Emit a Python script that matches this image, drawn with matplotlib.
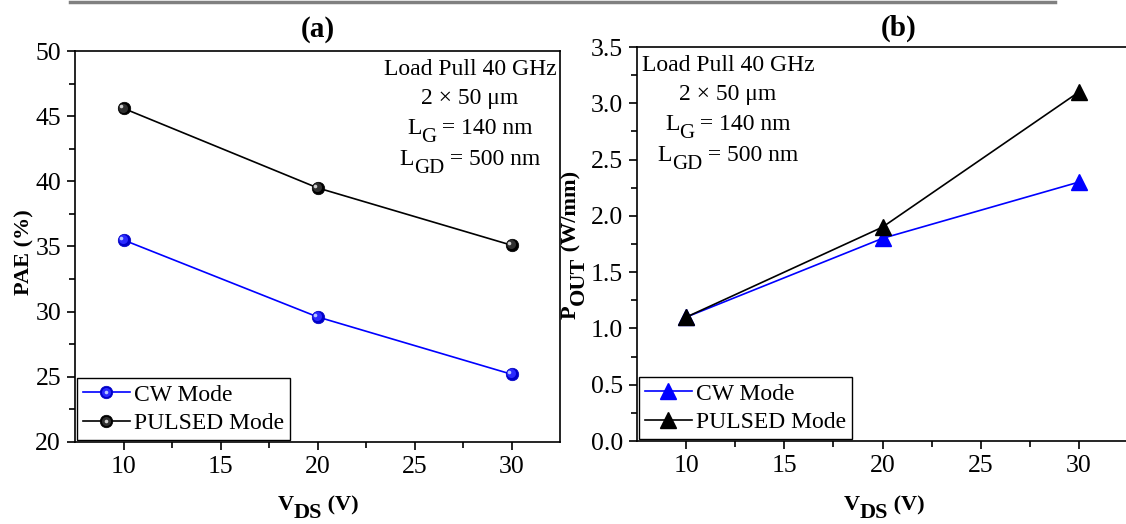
import matplotlib
matplotlib.use("Agg")
import matplotlib.pyplot as plt
from matplotlib.transforms import ScaledTranslation
from matplotlib.lines import Line2D

# Drain bias points and measured load-pull results at 40 GHz
vds = [10, 20, 30]
pae_cw = [35.5, 29.6, 25.2]
pae_pulsed = [45.6, 39.5, 35.1]
pout_cw = [1.1, 1.8, 2.3]
pout_pulsed = [1.1, 1.9, 3.1]

series_labels = ["CW Mode", "PULSED Mode"]
x_ticks = [10, 15, 20, 25, 30]
pae_ticks = [20, 25, 30, 35, 40, 45, 50]
pout_ticks = [0.0, 0.5, 1.0, 1.5, 2.0, 2.5, 3.0, 3.5]
pout_tick_labels = ["0.0", "0.5", "1.0", "1.5", "2.0", "2.5", "3.0", "3.5"]

plt.rcParams.update({
    "font.family": "Liberation Serif",
    "font.size": 17,
    "axes.linewidth": 1.2,
})

W, H = 1126, 524
fig = plt.figure(figsize=(W / 100, H / 100), dpi=100)


def axes_px(left, top, right, bottom):
    return fig.add_axes([left / W, 1 - bottom / H, (right - left) / W, (bottom - top) / H])


ax_a = axes_px(75, 51, 560, 442)
ax_b = axes_px(637, 47, 1128, 441)

# thin gray rule along the top edge of the figure
fig.add_artist(Line2D([70 / W, 1055 / W], [1 - 1.5 / H, 1 - 1.5 / H],
                      color="#808080", lw=2.5, transform=fig.transFigure))

renderer = fig.canvas.get_renderer()


def rich_text(cx, base, parts, rotation=0, weight="normal"):
    """Draw a run of text pieces (string, size, drop in pt) centred on cx.

    cx / base are pixel positions measured from the top-left corner; for
    rotated text cx is the vertical centre and base the baseline column.
    """
    items = []
    for s, size, drop in parts:
        t = fig.text(0, 0, s, fontsize=size, fontweight=weight,
                     ha="left", va="baseline")
        w = t.get_window_extent(renderer).width
        items.append((t, w, drop))
    total = sum(w for _, w, _ in items)
    acc = -total / 2
    for t, w, drop in items:
        d = drop * 100 / 72
        if rotation == 0:
            x, y = cx + acc, H - (base + d)
        else:
            t.set_rotation(90)
            t.set_rotation_mode("anchor")
            x, y = base + d, (H - cx) + acc
        t.set_position((x / W, y / H))
        acc += w


def ball_series(ax, x, y, color, edge, mid, light, label):
    base, = ax.plot(x, y, color=color, lw=1.2, marker="o", ms=9,
                    mfc=edge, mec=edge, mew=0.5, label=label, zorder=3)
    off1 = ax.transData + ScaledTranslation(-0.6 / 72, 0.6 / 72, fig.dpi_scale_trans)
    m1, = ax.plot(x, y, ls="none", marker="o", ms=6.5, mfc=mid, mec="none",
                  transform=off1, zorder=4)
    off2 = ax.transData + ScaledTranslation(-1.6 / 72, 1.6 / 72, fig.dpi_scale_trans)
    m2, = ax.plot(x, y, ls="none", marker="o", ms=2.6, mfc=light, mec="none",
                  transform=off2, zorder=5)
    return (base, m1, m2)


h_cw = ball_series(ax_a, vds, pae_cw, "#0000ff", "#0000c8", "#2a2aff", "#b8c8ff", series_labels[0])
h_pu = ball_series(ax_a, vds, pae_pulsed, "black", "#000000", "#303030", "#d0d0d0", series_labels[1])

l_cw, = ax_b.plot(vds, pout_cw, color="#0000ff", lw=1.2, marker="^", ms=11,
                  mfc="#0000ff", mec="#0000ff", label=series_labels[0], zorder=3)
l_pu, = ax_b.plot(vds, pout_pulsed, color="black", lw=1.2, marker="^", ms=11,
                  mfc="black", mec="black", label=series_labels[1], zorder=3)

legend_kw = dict(loc="lower left", fontsize=17, frameon=True, fancybox=False,
                 edgecolor="black", framealpha=1, borderaxespad=0.08,
                 handlelength=2.0, handletextpad=0.15, borderpad=0.25,
                 labelspacing=0.3)
leg = ax_a.legend([h_cw, h_pu], series_labels, **legend_kw)
leg.get_frame().set_linewidth(1.0)
leg = ax_b.legend([l_cw, l_pu], series_labels, **legend_kw)
leg.get_frame().set_linewidth(1.0)

ax_a.set_xlim(7.5, 32.5)
ax_a.set_ylim(20, 50)
ax_a.set_yticks(pae_ticks)
ax_a.set_xticks(x_ticks)
ax_a.set_xticks([12.5, 17.5, 22.5, 27.5], minor=True)
ax_a.set_yticks([22.5, 27.5, 32.5, 37.5, 42.5, 47.5], minor=True)

ax_b.set_xlim(7.5, 32.5)
ax_b.set_ylim(0, 3.5)
ax_b.set_yticks(pout_ticks)
ax_b.set_yticklabels(pout_tick_labels)
ax_b.set_xticks(x_ticks)
ax_b.set_xticks([12.5, 17.5, 22.5, 27.5], minor=True)
ax_b.set_yticks([0.25, 0.75, 1.25, 1.75, 2.25, 2.75, 3.25], minor=True)

for ax in (ax_a, ax_b):
    ax.tick_params(which="major", direction="out", length=6, width=1.2, labelsize=18.5, pad=4)
    ax.tick_params(which="minor", direction="out", length=4, width=1.2)

ax_a.set_title("(a)", fontweight="bold", fontsize=21, pad=10)
ax_b.set_title("(b)", fontweight="bold", fontsize=21, pad=8, x=(899 - 637) / (1128 - 637))

# axis labels with full-height subscripts
rich_text(318, 510, [("V", 16, 0), ("DS", 16, 5.5), (" (V)", 16, 0)], weight="bold")
rich_text(884, 510, [("V", 16, 0), ("DS", 16, 5.5), (" (V)", 16, 0)], weight="bold")
rich_text(252, 29, [("PAE (%)", 16, 0)], rotation=90, weight="bold")
rich_text(245, 576, [("P", 16, 0), ("OUT", 16, 5.5), (" (W/mm)", 16, 0)],
          rotation=90, weight="bold")

# device / measurement notes
for cx, bases in ((470, (75, 104, 134, 165)), (728, (71, 100, 130, 161))):
    rich_text(cx, bases[0], [("Load Pull 40 GHz", 17, 0)])
    rich_text(cx, bases[1], [("2 \u00d7 50 \u03bcm", 17, 0)])
    rich_text(cx, bases[2], [("L", 17, 0), ("G", 15, 5.5), (" = 140 nm", 17, 0)])
    rich_text(cx, bases[3], [("L", 17, 0), ("GD", 15, 5.5), (" = 500 nm", 17, 0)])

fig.savefig("out.png", dpi=100)
